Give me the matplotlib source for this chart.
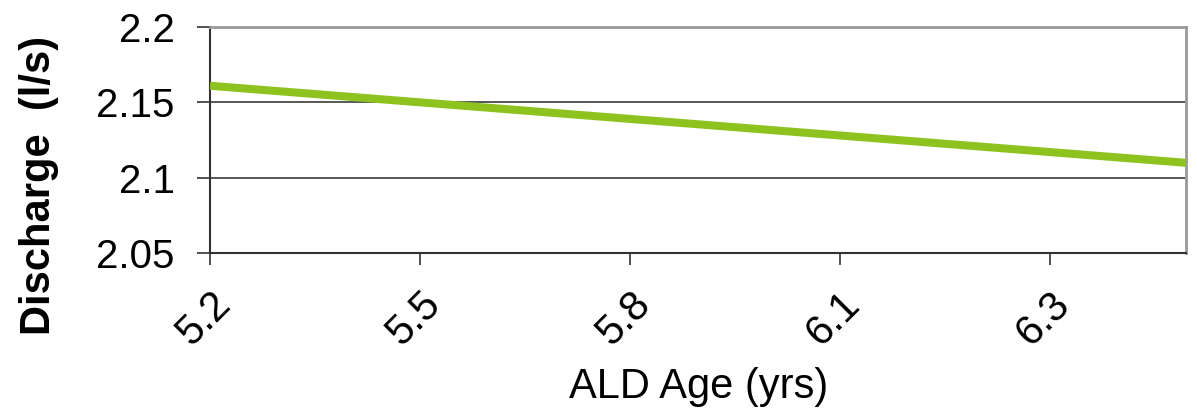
import matplotlib
matplotlib.use("Agg")
import matplotlib.pyplot as plt

# Data
age_labels = ["5.2", "5.5", "5.8", "6.1", "6.3"]
positions = [0, 1, 2, 3, 4, 5]
discharge = [2.161, 2.150, 2.139, 2.128, 2.117, 2.106]
yticks = [2.05, 2.1, 2.15, 2.2]
ytick_labels = ["2.05", "2.1", "2.15", "2.2"]

plt.rcParams['font.family'] = ['Liberation Sans', 'DejaVu Sans']

fig = plt.figure(figsize=(11.97, 4.11), dpi=100)
ax = fig.add_axes([210/1197, 1-253/411, (1186-210)/1197, (253-27)/411])

ax.plot(positions, discharge, color='#8DC21F', lw=5.8, solid_capstyle='butt', zorder=3, clip_on=True)

ax.set_xlim(0, 4.648)
ax.set_ylim(2.05, 2.2)
ax.set_yticks(yticks)
ax.set_yticklabels(ytick_labels, fontsize=29)
ax.set_xticks(range(len(age_labels)))
ax.set_xticklabels(age_labels, fontsize=30, rotation=45, ha='right', rotation_mode='anchor')

ax.grid(axis='y', color='#4a4a4a', lw=1.3, zorder=1)
ax.set_axisbelow(True)

for s in ['left', 'bottom']:
    ax.spines[s].set_color('#333333')
    ax.spines[s].set_linewidth(1.5)
for s in ['top', 'right']:
    ax.spines[s].set_color('#999999')
    ax.spines[s].set_linewidth(2)

ax.tick_params(axis='y', length=9.4, width=1.2, color='#333333', pad=16)
ax.tick_params(axis='x', length=8.6, width=1.2, color='#333333', pad=14)

ax.set_ylabel("Discharge  (l/s)", fontsize=30, fontweight='bold')
ax.yaxis.set_label_coords(-0.155, 0.30)
ax.set_xlabel("ALD Age (yrs)", fontsize=30)
ax.xaxis.set_label_coords(0.501, -0.505)

fig.savefig("out.png", dpi=100)
